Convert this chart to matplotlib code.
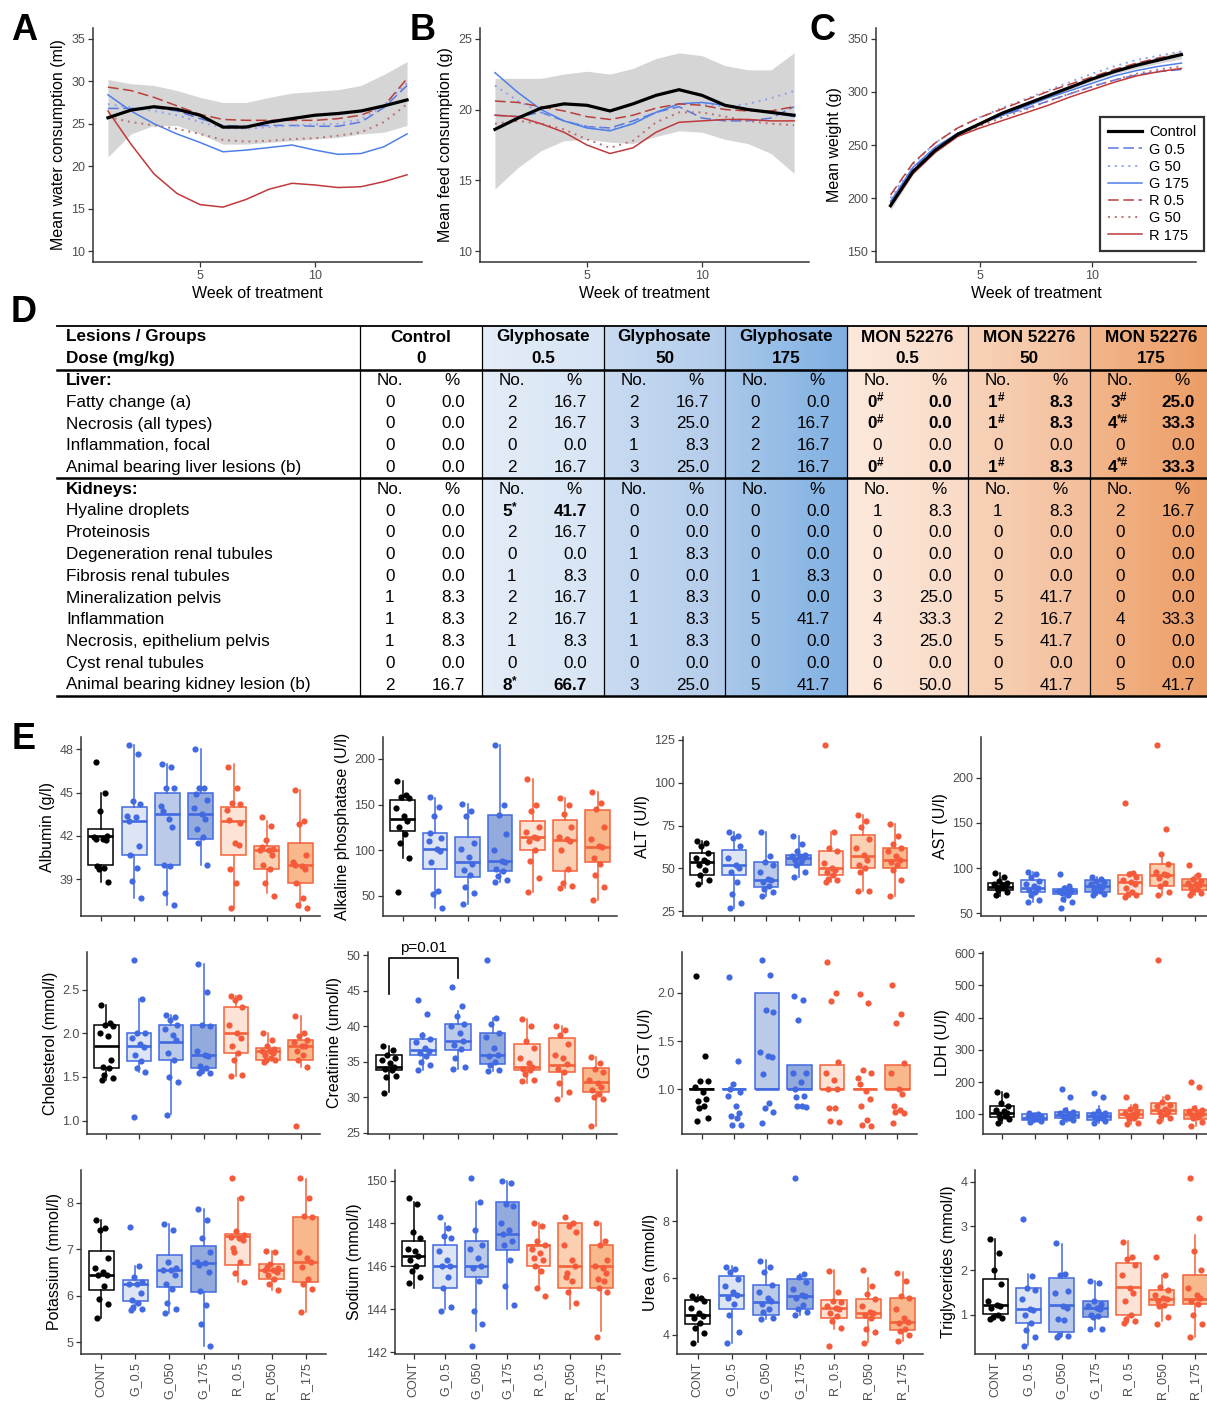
import matplotlib
matplotlib.use('Agg')
import matplotlib.pyplot as plt
import numpy as np
from matplotlib.colors import LinearSegmentedColormap

plt.rcParams['font.family'] = ['Liberation Sans', 'DejaVu Sans']

# ---------------- data: panels A-C (weekly smoothed means) ----------------
weeks = list(range(1, 15))
legend_labels = ['Control', 'G 0.5', 'G 50', 'G 175', 'R 0.5', 'G 50', 'R 175']

water_vals = [
    [25.7, 26.6, 27.0, 26.7, 26.0, 24.6, 24.6, 25.2, 25.6, 26.0, 26.2, 26.5, 27.1, 27.8],
    [26.8, 26.8, 26.9, 26.5, 25.6, 24.8, 24.7, 24.8, 24.8, 24.7, 24.7, 25.2, 26.9, 29.5],
    [27.3, 26.9, 26.5, 26.0, 25.2, 24.5, 24.4, 24.6, 24.8, 24.9, 25.0, 25.5, 27.2, 29.8],
    [28.4, 26.5, 25.0, 23.8, 22.8, 21.7, 21.9, 22.2, 22.5, 21.9, 21.4, 21.5, 22.3, 23.8],
    [29.3, 28.9, 28.1, 27.1, 26.1, 25.5, 25.4, 25.4, 25.4, 25.4, 25.6, 26.0, 27.1, 30.3],
    [25.8, 25.2, 24.8, 24.4, 23.8, 23.1, 22.9, 23.0, 23.2, 23.3, 23.6, 24.0, 25.2, 27.3],
    [26.5, 22.6, 19.1, 16.8, 15.5, 15.2, 16.1, 17.3, 18.0, 17.8, 17.5, 17.6, 18.2, 19.0]]
water_lo = [21.1, 23.8, 24.8, 24.8, 23.8, 22.6, 22.6, 22.8, 23.0, 23.2, 23.4, 23.8, 24.0, 24.8]
water_hi = [30.2, 29.7, 29.5, 28.9, 28.1, 27.5, 27.5, 28.1, 28.6, 28.8, 29.0, 29.5, 30.8, 32.3]

feed_vals = [
    [18.6, 19.4, 20.1, 20.4, 20.3, 19.9, 20.4, 21.0, 21.4, 21.0, 20.3, 20.0, 19.8, 19.6],
    [19.6, 19.5, 19.8, 19.2, 18.8, 18.7, 19.2, 19.8, 20.2, 19.4, 19.2, 19.2, 19.4, 20.2],
    [21.7, 20.6, 19.8, 19.2, 18.8, 18.6, 19.0, 19.8, 20.4, 20.4, 20.2, 20.4, 20.8, 21.3],
    [22.6, 21.2, 20.0, 19.2, 18.7, 18.5, 19.0, 19.8, 20.4, 20.5, 20.3, 20.0, 19.8, 19.5],
    [20.6, 20.5, 20.2, 19.9, 19.5, 19.3, 19.6, 20.1, 20.4, 20.3, 20.0, 19.9, 19.9, 20.2],
    [19.0, 19.2, 19.0, 18.6, 17.9, 17.3, 17.8, 19.1, 19.8, 19.8, 19.5, 19.2, 19.0, 18.9],
    [19.6, 19.5, 19.0, 18.4, 17.5, 16.9, 17.3, 18.4, 19.1, 19.2, 19.3, 19.3, 19.2, 19.2]]
feed_lo = [14.4, 15.9, 17.1, 17.8, 17.9, 17.7, 17.6, 18.1, 18.5, 18.4, 17.9, 17.6, 16.9, 15.5]
feed_hi = [22.2, 22.2, 22.2, 22.5, 22.7, 22.5, 22.9, 23.6, 24.0, 23.8, 23.1, 22.8, 22.8, 24.0]

weight_vals = [
    [193, 225, 245, 260, 270, 280, 288, 296, 304, 312, 319, 325, 330, 335],
    [196, 228, 247, 261, 270, 278, 284, 291, 298, 305, 311, 316, 319, 321],
    [200, 232, 252, 266, 276, 285, 293, 301, 309, 317, 324, 330, 334, 338],
    [197, 229, 248, 261, 270, 278, 286, 294, 301, 308, 315, 320, 324, 327],
    [203, 233, 252, 266, 276, 284, 292, 300, 307, 314, 321, 327, 332, 335],
    [195, 226, 245, 259, 268, 276, 283, 291, 298, 305, 311, 317, 321, 324],
    [192, 223, 243, 258, 266, 273, 280, 287, 295, 302, 309, 315, 319, 322]]
weight_lo = [189, 222, 243, 258, 268, 278, 286, 294, 302, 310, 317, 322, 327, 331]
weight_hi = [197, 228, 247, 262, 272, 282, 290, 298, 306, 314, 321, 328, 333, 339]

# ---------------- data: panel D (lesion table) ----------------
group_names = ['Control', 'Glyphosate', 'Glyphosate', 'Glyphosate',
               'MON 52276', 'MON 52276', 'MON 52276']
group_doses = ['0', '0.5', '50', '175', '0.5', '50', '175']
liver_rows = ['Fatty change (a)', 'Necrosis (all types)', 'Inflammation, focal',
              'Animal bearing liver lesions (b)']
kidney_rows = ['Hyaline droplets', 'Proteinosis', 'Degeneration renal tubules',
               'Fibrosis renal tubules', 'Mineralization pelvis', 'Inflammation',
               'Necrosis, epithelium pelvis', 'Cyst renal tubules',
               'Animal bearing kidney lesion (b)']
liver_no = [['0', '0', '0', '0'], ['2', '2', '0', '2'], ['2', '3', '1', '3'],
            ['0', '2', '2', '2'], ['0#', '0#', '0', '0#'], ['1#', '1#', '0', '1#'],
            ['3#', '4*#', '0', '4*#']]
liver_pct = [['0.0', '0.0', '0.0', '0.0'], ['16.7', '16.7', '0.0', '16.7'],
             ['16.7', '25.0', '8.3', '25.0'], ['0.0', '16.7', '16.7', '16.7'],
             ['0.0', '0.0', '0.0', '0.0'], ['8.3', '8.3', '0.0', '8.3'],
             ['25.0', '33.3', '0.0', '33.3']]
kidney_no = [['0', '0', '0', '0', '1', '1', '1', '0', '2'],
             ['5*', '2', '0', '1', '2', '2', '1', '0', '8*'],
             ['0', '0', '1', '0', '1', '1', '1', '0', '3'],
             ['0', '0', '0', '1', '0', '5', '0', '0', '5'],
             ['1', '0', '0', '0', '3', '4', '3', '0', '6'],
             ['1', '0', '0', '0', '5', '2', '5', '0', '5'],
             ['2', '0', '0', '0', '0', '4', '0', '0', '5']]
kidney_pct = [['0.0', '0.0', '0.0', '0.0', '8.3', '8.3', '8.3', '0.0', '16.7'],
              ['41.7', '16.7', '0.0', '8.3', '16.7', '16.7', '8.3', '0.0', '66.7'],
              ['0.0', '0.0', '8.3', '0.0', '8.3', '8.3', '8.3', '0.0', '25.0'],
              ['0.0', '0.0', '0.0', '8.3', '0.0', '41.7', '0.0', '0.0', '41.7'],
              ['8.3', '0.0', '0.0', '0.0', '25.0', '33.3', '25.0', '0.0', '50.0'],
              ['8.3', '0.0', '0.0', '0.0', '41.7', '16.7', '41.7', '0.0', '41.7'],
              ['16.7', '0.0', '0.0', '0.0', '0.0', '33.3', '0.0', '0.0', '41.7']]

# ---------------- data: panel E (box stats: lo, q1, median, q3, hi) ----------------
box_groups = ['CONT', 'G_0.5', 'G_050', 'G_175', 'R_0.5', 'R_050', 'R_175']

alb_stats = [(38.8, 40.0, 42.0, 42.5, 45.0), (37.7, 40.7, 43.0, 44.0, 48.3), (37.2, 40.0, 43.5, 45.0, 47.0),
             (40.0, 41.8, 43.5, 45.0, 48.0), (37.0, 40.7, 43.0, 44.0, 47.0), (38.0, 39.7, 41.0, 41.3, 43.0),
             (37.0, 38.7, 40.0, 41.5, 45.2)]
alb_pts = [[47.1, 45.0, 43.7, 42.0, 41.9, 41.8, 41.7, 39.9, 39.8, 39.7, 38.8, 41.8],
           [48.3, 47.7, 44.4, 44.2, 43.4, 43.3, 41.3, 40.7, 39.8, 38.9, 37.7, 43.0],
           [47.0, 46.8, 45.3, 45.3, 44.1, 43.2, 42.6, 40.0, 39.9, 38.0, 37.2, 43.7],
           [48.0, 45.3, 45.3, 44.5, 43.9, 43.5, 43.2, 42.5, 41.9, 41.5, 40.0, 44.9],
           [46.8, 45.3, 44.3, 44.2, 43.8, 41.5, 41.4, 39.7, 38.7, 37.0, 42.9, 43.1],
           [43.3, 42.7, 41.7, 41.1, 41.0, 41.0, 40.7, 40.0, 39.7, 38.7, 37.8, 41.2],
           [45.2, 43.0, 42.8, 40.7, 40.2, 39.9, 39.7, 38.7, 37.7, 37.2, 37.0, 40.0]]

alp_stats = [(91, 121, 134, 155, 176), (37, 79, 101, 119, 157), (41, 71, 87, 115, 151),
             (65, 77, 88, 139, 215), (54, 100, 114, 132, 178), (59, 77, 111, 133, 157),
             (46, 87, 104, 144, 164)]
alp_pts = [[176, 160, 158, 157, 146, 138, 132, 125, 118, 108, 91, 54],
           [158, 147, 137, 113, 110, 101, 99, 87, 55, 52, 37, 119],
           [151, 143, 137, 108, 101, 93, 85, 78, 73, 60, 53, 41],
           [215, 150, 139, 118, 100, 88, 87, 80, 77, 72, 68, 65],
           [178, 149, 143, 125, 120, 115, 113, 110, 100, 88, 70, 54],
           [157, 150, 140, 125, 115, 112, 110, 100, 80, 64, 61, 59],
           [164, 152, 145, 125, 112, 105, 104, 92, 85, 73, 60, 46]]

alt_stats = [(41, 46, 54, 59, 66), (27, 46, 52, 60.5, 71), (34, 39, 43, 53.5, 71),
             (45, 52, 56, 58, 69), (42, 46, 50, 60, 71), (37, 50, 57, 69.5, 81), (34, 50, 55, 62, 76)]
alt_pts = [[66, 65, 63, 59, 56, 55, 54, 52, 49, 46, 43, 41],
           [71, 69, 68, 63, 56, 52, 50, 48, 42, 35, 30, 27],
           [71, 57, 54, 52, 48, 44, 43, 42, 40, 38, 36, 34],
           [69, 64, 60, 58, 57, 57, 56, 55, 54, 52, 48, 45],
           [122, 71, 62, 60, 53, 50, 49, 48, 46, 44, 43, 42],
           [81, 78, 74, 67, 62, 58, 55, 52, 50, 48, 37, 37],
           [76, 69, 64, 62, 60, 57, 55, 54, 52, 49, 43, 34]]

ast_stats = [(69, 76, 79, 83, 95), (63, 74, 78, 87, 96), (62, 71, 75, 77, 80),
             (70, 74, 80, 87, 90), (68, 71, 85, 92, 96), (70, 80, 92, 104, 117), (70, 76, 81, 88, 92)]
ast_pts = [[95, 90, 86, 84, 82, 81, 80, 79, 78, 76, 73, 70],
           [96, 93, 90, 86, 82, 80, 78, 76, 73, 70, 65, 63],
           [93, 80, 78, 76, 75, 75, 74, 72, 70, 66, 62, 56],
           [90, 88, 86, 85, 82, 80, 79, 77, 75, 73, 71, 70],
           [172, 95, 93, 90, 87, 85, 82, 78, 73, 71, 70, 68],
           [236, 143, 116, 104, 96, 93, 92, 89, 84, 80, 74, 70],
           [103, 92, 88, 86, 84, 82, 81, 79, 77, 74, 72, 70]]

chol_stats = [(1.47, 1.6, 1.85, 2.1, 2.33), (1.56, 1.68, 1.85, 2.0, 2.4), (1.07, 1.7, 1.9, 2.1, 2.21),
              (1.54, 1.6, 1.75, 2.1, 2.8), (1.51, 1.77, 2.0, 2.3, 2.43), (1.67, 1.7, 1.8, 1.83, 2.0),
              (1.62, 1.7, 1.85, 1.93, 2.2)]
chol_pts = [[2.33, 2.12, 2.1, 2.08, 2.0, 1.97, 1.69, 1.62, 1.6, 1.52, 1.49, 1.47],
            [2.84, 2.4, 2.0, 2.0, 1.95, 1.88, 1.84, 1.75, 1.68, 1.6, 1.56, 1.04],
            [2.21, 2.19, 2.15, 2.1, 2.05, 1.98, 1.92, 1.77, 1.7, 1.5, 1.44, 1.06],
            [2.8, 2.47, 2.1, 2.09, 1.8, 1.75, 1.74, 1.63, 1.6, 1.57, 1.55, 1.54],
            [2.43, 2.42, 2.38, 2.3, 2.1, 2.0, 1.95, 1.85, 1.78, 1.7, 1.52, 1.51],
            [2.0, 1.93, 1.86, 1.82, 1.8, 1.8, 1.78, 1.75, 1.72, 1.7, 1.69, 1.67],
            [2.2, 2.0, 1.97, 1.93, 1.9, 1.86, 1.85, 1.8, 1.75, 1.7, 1.62, 0.94]]

creat_stats = [(30.7, 33.8, 34.2, 36.0, 37.2), (33.9, 35.9, 36.6, 38.2, 39.0), (34.0, 36.7, 38.0, 40.3, 42.2),
               (33.7, 34.7, 36.0, 39.0, 41.2), (32.0, 33.8, 34.3, 37.5, 41.0), (30.0, 33.5, 34.5, 38.3, 40.0),
               (26.0, 30.8, 32.1, 34.1, 35.7)]
creat_pts = [[37.2, 36.6, 36.0, 35.6, 35.2, 34.8, 34.2, 34.0, 33.8, 32.8, 33.0, 30.6],
             [43.7, 41.7, 38.8, 38.2, 37.8, 37.0, 36.5, 36.3, 35.8, 35.0, 34.5, 33.9],
             [45.6, 42.8, 41.5, 40.3, 40.0, 39.0, 38.0, 37.4, 36.8, 35.5, 34.2, 34.0],
             [49.3, 41.2, 40.3, 39.0, 38.5, 37.0, 36.0, 35.8, 35.0, 34.5, 33.8, 33.7],
             [41.0, 40.0, 38.0, 37.0, 35.5, 34.8, 34.3, 34.0, 33.9, 33.3, 32.5, 32.3],
             [40.0, 39.5, 38.8, 37.5, 36.0, 35.5, 34.7, 34.0, 33.5, 32.0, 30.7, 29.8],
             [35.7, 34.8, 34.0, 33.5, 32.5, 32.0, 31.5, 31.0, 30.5, 30.0, 29.8, 26.0]]
creat_sig_groups = (0, 2)
creat_sig_y = 49.6
creat_sig_legs = (44.5, 46.8)
creat_sig_text = 'p=0.01'

ggt_stats = [(1, 1, 1, 1, 1), (1, 1, 1, 1, 1), (1, 1, 1, 2, 2), (1, 1, 1, 1.25, 1.25),
             (1, 1, 1, 1.25, 1.25), (1, 1, 1, 1, 1), (1, 1, 1, 1.25, 1.25)]
ggt_pts = [[2.18, 1.35, 1.09, 1.08, 1.02, 0.97, 0.9, 0.88, 0.83, 0.8, 0.7, 0.67],
           [2.17, 1.29, 1.05, 0.97, 0.93, 0.83, 0.75, 0.72, 0.7, 0.63, 0.63, 1.0],
           [2.34, 2.19, 1.82, 1.8, 1.39, 1.35, 1.33, 1.16, 0.86, 0.8, 0.76, 0.65],
           [1.97, 1.93, 1.72, 1.17, 1.17, 1.07, 0.93, 0.92, 0.83, 0.82, 0.81, 1.0],
           [2.32, 2.0, 1.92, 1.28, 1.17, 1.1, 1.0, 0.8, 0.8, 0.67, 0.66, 1.0],
           [1.99, 1.9, 1.2, 1.17, 1.12, 0.98, 0.9, 0.83, 0.68, 0.63, 0.62, 1.05],
           [2.08, 1.78, 1.69, 1.27, 1.17, 1.0, 0.95, 0.83, 0.78, 0.76, 0.75, 0.65]]

ldh_stats = [(75, 93, 105, 126, 170), (78, 82, 90, 100, 105), (78, 88, 98, 107, 120),
             (72, 83, 95, 105, 125), (70, 88, 100, 114, 130), (80, 100, 115, 134, 155), (65, 85, 100, 115, 125)]
ldh_pts = [[170, 160, 135, 125, 115, 110, 105, 100, 95, 90, 85, 75],
           [105, 100, 97, 95, 92, 90, 89, 87, 85, 82, 80, 78],
           [178, 155, 115, 108, 103, 100, 97, 95, 90, 88, 82, 78],
           [168, 155, 110, 105, 100, 97, 95, 92, 88, 85, 80, 72],
           [155, 125, 118, 112, 105, 100, 98, 95, 90, 85, 75, 70],
           [578, 155, 140, 130, 125, 118, 112, 108, 100, 95, 88, 80],
           [202, 185, 120, 115, 110, 103, 100, 98, 92, 88, 78, 65]]

k_stats = [(5.52, 6.13, 6.45, 6.96, 7.62), (5.7, 5.88, 6.25, 6.33, 6.63), (5.62, 6.18, 6.56, 6.87, 7.55),
           (4.93, 6.09, 6.7, 7.07, 7.87), (6.3, 6.67, 7.28, 7.33, 8.1), (6.12, 6.36, 6.56, 6.68, 6.97),
           (5.66, 6.3, 6.72, 7.69, 8.5)]
k_pts = [[7.62, 7.45, 7.42, 6.82, 6.6, 6.5, 6.45, 6.45, 6.2, 5.93, 5.82, 5.52],
         [7.47, 6.63, 6.4, 6.3, 6.25, 6.25, 6.07, 5.9, 5.85, 5.75, 5.72, 5.7],
         [7.55, 7.42, 6.72, 6.6, 6.55, 6.55, 6.45, 6.25, 6.15, 5.85, 5.72, 5.62],
         [7.87, 7.62, 7.25, 6.95, 6.72, 6.7, 6.5, 6.1, 5.8, 5.4, 4.93, 6.65],
         [8.52, 8.1, 7.38, 7.3, 7.27, 7.25, 7.2, 6.95, 6.72, 6.48, 6.3, 7.02],
         [6.97, 6.95, 6.68, 6.6, 6.55, 6.55, 6.5, 6.45, 6.35, 6.25, 6.12, 6.62],
         [8.52, 8.1, 7.72, 7.7, 6.95, 6.82, 6.72, 6.62, 6.35, 6.25, 6.15, 5.65]]

na_stats = [(145.0, 146.0, 146.5, 147.2, 149.0), (144.0, 145.0, 146.0, 147.0, 148.0),
            (143.0, 145.5, 146.0, 147.2, 149.0), (144.0, 146.75, 147.5, 149.0, 150.0),
            (145.0, 146.0, 147.0, 147.0, 148.0), (144.0, 145.0, 146.0, 148.0, 148.0),
            (143.0, 145.0, 146.0, 147.0, 148.0)]
na_pts = [[149.2, 148.9, 147.6, 147.3, 146.8, 146.7, 146.5, 146.3, 146.0, 145.8, 145.5, 145.2],
          [148.3, 147.8, 147.4, 147.3, 146.7, 146.3, 146.0, 146.0, 145.5, 145.0, 144.1, 143.9],
          [150.1, 149.0, 147.7, 147.0, 146.8, 146.4, 146.0, 145.9, 145.3, 143.9, 143.3, 142.3],
          [150.0, 149.9, 148.9, 148.8, 148.0, 147.7, 147.2, 147.0, 146.3, 145.1, 144.2, 147.5],
          [148.0, 147.9, 147.2, 147.0, 146.8, 146.6, 146.3, 146.0, 145.8, 145.0, 144.6, 146.4],
          [148.3, 148.0, 147.9, 147.6, 147.0, 146.3, 146.0, 145.7, 145.3, 144.8, 144.3, 145.5],
          [148.0, 147.2, 147.0, 146.3, 146.0, 145.9, 145.7, 145.4, 145.3, 145.0, 144.8, 142.7]]

urea_stats = [(3.74, 4.39, 4.68, 5.24, 5.39), (3.72, 4.92, 5.41, 6.06, 6.41), (4.56, 4.71, 5.15, 5.76, 6.62),
              (4.68, 4.92, 5.36, 5.96, 6.15), (4.2, 4.6, 4.94, 5.21, 6.29), (3.74, 4.59, 4.76, 5.27, 5.98),
              (3.8, 4.18, 4.45, 5.3, 6.21)]
urea_pts = [[5.38, 5.3, 5.25, 5.2, 4.95, 4.75, 4.65, 4.6, 4.4, 4.25, 4.05, 3.73],
            [6.4, 6.33, 6.2, 5.95, 5.7, 5.5, 5.4, 5.3, 5.1, 4.7, 4.1, 3.7],
            [6.6, 6.4, 6.2, 5.75, 5.5, 5.3, 5.2, 5.1, 4.9, 4.8, 4.6, 4.55],
            [9.5, 6.15, 6.05, 5.85, 5.6, 5.4, 5.35, 5.3, 5.05, 4.9, 4.8, 4.7],
            [6.25, 5.5, 5.2, 5.15, 5.0, 4.95, 4.9, 4.75, 4.65, 4.5, 4.25, 3.62],
            [6.28, 5.7, 5.45, 5.25, 5.0, 4.8, 4.75, 4.7, 4.6, 4.2, 4.1, 3.7],
            [6.18, 5.9, 5.35, 5.3, 4.9, 4.6, 4.45, 4.4, 4.2, 4.15, 4.0, 3.8]]

tg_stats = [(0.92, 1.02, 1.22, 1.8, 2.7), (0.32, 0.82, 1.12, 1.61, 1.91), (0.52, 0.61, 1.22, 1.83, 2.6),
            (0.68, 0.95, 1.14, 1.31, 1.76), (0.82, 1.0, 1.62, 2.16, 2.66), (0.86, 1.22, 1.36, 1.55, 1.89),
            (0.5, 1.25, 1.35, 1.89, 2.8)]
tg_pts = [[2.7, 2.4, 2.0, 1.7, 1.3, 1.22, 1.2, 1.15, 1.0, 0.95, 0.92, 0.9],
          [3.17, 1.88, 1.6, 1.55, 1.35, 1.12, 1.1, 1.0, 0.82, 0.65, 0.5, 0.3],
          [2.63, 1.93, 1.9, 1.53, 1.5, 1.2, 1.15, 0.9, 0.88, 0.55, 0.52, 0.5],
          [1.77, 1.72, 1.3, 1.25, 1.2, 1.15, 1.12, 1.0, 0.98, 0.95, 0.68, 0.67],
          [2.65, 2.3, 2.25, 2.12, 1.9, 1.6, 1.5, 1.3, 1.0, 0.9, 0.85, 0.82],
          [2.3, 1.9, 1.62, 1.55, 1.45, 1.38, 1.35, 1.3, 1.22, 1.2, 0.95, 0.78],
          [4.08, 3.18, 2.43, 2.0, 1.6, 1.45, 1.38, 1.3, 1.25, 1.0, 0.8, 0.5]]

# ---------------- figure ----------------
W, H = 1207, 1402
fig = plt.figure(figsize=(W / 100, H / 100), dpi=100)
TICKC = '#4d4d4d'
AXC = '#333333'


def px_axes(l, t, r, b):
    ax = fig.add_axes([l / W, 1 - b / H, (r - l) / W, (b - t) / H])
    ax.patch.set_visible(False)
    return ax


def classic(ax):
    for s in ['top', 'right']:
        ax.spines[s].set_visible(False)
    for s in ['left', 'bottom']:
        ax.spines[s].set_color(AXC)
        ax.spines[s].set_linewidth(1.1)
    ax.tick_params(colors=AXC, labelcolor=TICKC, labelsize=9, length=3.5, width=0.9, pad=2)


# overlay axes in pixel units for the table
ov = fig.add_axes([0, 0, 1, 1])
ov.axis('off')

# panel letters on top of everything
for letter, (lx, ly) in zip('ABCDE', [(24, 31), (423, 31), (822, 31), (24, 312), (24, 740)]):
    fig.text(lx / W, 1 - ly / H, letter, fontsize=26, fontweight='bold', ha='center', va='center',
             zorder=10)

# ---------------- panels A-C ----------------
line_styles = [dict(color='black', lw=2.3, ls='-', zorder=5),
               dict(color='#5a78e0', lw=1.1, dashes=(7, 3), zorder=4),
               dict(color='#8fa0f0', lw=1.4, dashes=(1, 2.5), zorder=4),
               dict(color='#4f7fe8', lw=1.1, ls='-', zorder=4),
               dict(color='#b9403a', lw=1.1, dashes=(7, 3), zorder=4),
               dict(color='#b97070', lw=1.4, dashes=(1, 2.5), zorder=4),
               dict(color='#c0393b', lw=1.1, ls='-', zorder=4)]


def line_panel(l, r, vals, lo, hi, ylim, yticks, ylabel):
    ax = px_axes(l, 28, r, 262)
    ax.fill_between(weeks, lo, hi, color='#d5d5d5', lw=0, zorder=1)
    handles = []
    for v, st, lab in zip(vals, line_styles, legend_labels):
        h, = ax.plot(weeks, v, label=lab, **st)
        handles.append(h)
    ax.set_xlim(0.35, 14.65)
    ax.set_ylim(*ylim)
    ax.set_xticks([5, 10])
    ax.set_yticks(yticks)
    classic(ax)
    ax.set_xlabel('Week of treatment', fontsize=11.5, labelpad=3)
    ax.set_ylabel(ylabel, fontsize=11.5, labelpad=4)
    return ax, handles


line_panel(93, 422, water_vals, water_lo, water_hi, (8.75, 36.25), [10, 15, 20, 25, 30, 35],
           'Mean water consumption (ml)')
line_panel(480, 809, feed_vals, feed_lo, feed_hi, (9.25, 25.75), [10, 15, 20, 25],
           'Mean feed consumption (g)')
axc, hs = line_panel(876, 1196, weight_vals, weight_lo, weight_hi, (140, 360), [150, 200, 250, 300, 350],
                     'Mean weight (g)')
leg = axc.legend(handles=hs, loc='upper left', bbox_to_anchor=(1093 / W, 1 - 110 / H),
                 bbox_transform=fig.transFigure, fontsize=10.5, frameon=True, fancybox=False,
                 handlelength=2.3, labelspacing=0.22, borderpad=0.55, handletextpad=0.5)
leg.get_frame().set_edgecolor('black')
leg.get_frame().set_linewidth(1.6)

# ---------------- panel D: table ----------------
col_edges = [360, 482, 604, 725, 847, 968, 1090, 1212]
shade = [None, ('#e4edf8', '#d6e4f4'), ('#c9dbf1', '#b2cceb'), ('#a9c8ea', '#7fb0e2'),
         ('#fde9dc', '#f9dac6'), ('#f8d3b9', '#f3be9a'), ('#f2b68b', '#ec9c64')]
row_y0, row_dy = 337, 21.75
t_top, t_bot = row_y0 - 0.5 * row_dy, row_y0 + 16.5 * row_dy

for gi in range(7):
    if shade[gi] is None:
        continue
    cmap = LinearSegmentedColormap.from_list('g%d' % gi, list(shade[gi]))
    ov.imshow(np.linspace(0, 1, 64)[None, :], cmap=cmap, aspect='auto',
              extent=[col_edges[gi], col_edges[gi + 1], t_bot, t_top], zorder=0)

TFS = 12.3


def ry(i):
    return row_y0 + i * row_dy


ov.text(66, ry(0), 'Lesions / Groups', fontsize=TFS, fontweight='bold', va='center')
ov.text(66, ry(1), 'Dose (mg/kg)', fontsize=TFS, fontweight='bold', va='center')
ov.text(66, ry(2), 'Liver:', fontsize=TFS, fontweight='bold', va='center')
ov.text(66, ry(7), 'Kidneys:', fontsize=TFS, fontweight='bold', va='center')
for i, lab in enumerate(liver_rows):
    ov.text(66, ry(3 + i), lab, fontsize=TFS, va='center')
for i, lab in enumerate(kidney_rows):
    ov.text(66, ry(8 + i), lab, fontsize=TFS, va='center')


def cell_no(x, y, s):
    base = s.rstrip('*#')
    suf = s[len(base):]
    if not suf:
        ov.text(x, y, base, fontsize=TFS, ha='center', va='center')
        return
    off = 2 + 3 * len(suf)
    ov.text(x - off, y, base, fontsize=TFS, ha='center', va='center', fontweight='bold')
    ov.text(x - off + 4.5, y - 4, suf, fontsize=8.5, ha='left', va='center', fontweight='bold')


for gi in range(7):
    x0 = col_edges[gi]
    cx = (col_edges[gi] + col_edges[gi + 1]) / 2
    ov.text(cx, ry(0), group_names[gi], fontsize=TFS, fontweight='bold', ha='center', va='center')
    ov.text(cx, ry(1), group_doses[gi], fontsize=TFS, fontweight='bold', ha='center', va='center')
    for hr in (2, 7):
        ov.text(x0 + 30, ry(hr), 'No.', fontsize=TFS, ha='center', va='center')
        ov.text(x0 + 92, ry(hr), '%', fontsize=TFS, ha='center', va='center')
    for i in range(4):
        s = liver_no[gi][i]
        cell_no(x0 + 30, ry(3 + i), s)
        ov.text(x0 + 105, ry(3 + i), liver_pct[gi][i], fontsize=TFS, ha='right', va='center',
                fontweight='bold' if s != s.rstrip('*#') else 'normal')
    for i in range(9):
        s = kidney_no[gi][i]
        cell_no(x0 + 30, ry(8 + i), s)
        ov.text(x0 + 105, ry(8 + i), kidney_pct[gi][i], fontsize=TFS, ha='right', va='center',
                fontweight='bold' if s != s.rstrip('*#') else 'normal')

ov.plot([57, W], [t_top, t_top], color='black', lw=1.3)
for yy in (ry(1.5), ry(6.5), t_bot):
    ov.plot([57, W], [yy, yy], color='black', lw=1.8)
for xx in col_edges[:-1]:
    ov.plot([xx, xx], [t_top, t_bot], color='black', lw=0.9)

ov.set_xlim(0, W)
ov.set_ylim(H, 0)

# ---------------- panel E ----------------
edge_cols = ['black', '#4169e1', '#4169e1', '#4169e1', '#f4623a', '#f4623a', '#f4623a']
fill_cols = ['white', '#dde5f4', '#bccaea', '#93aadd', '#fde3d5', '#fbcfb1', '#f8b88b']
dot_cols = ['black', '#4169e1', '#4169e1', '#4169e1', '#f55a3a', '#f55a3a', '#f55a3a']
jit = np.array([-0.16, 0.11, -0.04, 0.19, -0.2, 0.05, 0.15, -0.11, 0.08, -0.07, 0.2, -0.14])


def box_panel(box, pts, stats, yticks, fmt, ylabel, show_x):
    l, t, r, b = box
    ax = px_axes(l, t, r, b)
    for i in range(7):
        lo, q1, med, q3, hi = stats[i]
        st = dict(whislo=lo, q1=q1, med=med, q3=q3, whishi=hi, fliers=[])
        ax.bxp([st], positions=[i + 1], widths=0.75, patch_artist=True, showcaps=False,
               showfliers=False, manage_ticks=False,
               boxprops=dict(facecolor=fill_cols[i], edgecolor=edge_cols[i], lw=1.1),
               medianprops=dict(color=edge_cols[i], lw=1.9),
               whiskerprops=dict(color=edge_cols[i], lw=1.1))
        ax.scatter(i + 1 + jit[:len(pts[i])], pts[i], s=20, color=dot_cols[i], lw=0, zorder=4)
    allv = [v for g in pts for v in g] + [v for s in stats for v in s]
    lo, hi = min(allv), max(allv)
    pad = 0.05 * (hi - lo)
    ax.set_ylim(lo - pad, hi + pad)
    ax.set_xlim(0.4, 7.6)
    ax.set_yticks(yticks)
    ax.set_yticklabels([fmt % v for v in yticks])
    ax.set_xticks(range(1, 8))
    classic(ax)
    if show_x:
        ax.set_xticklabels(box_groups, rotation=90, va='top', ha='center')
    else:
        ax.set_xticklabels([])
    ax.set_ylabel(ylabel, fontsize=11.5, labelpad=3)
    return ax


box_panel((81, 737, 320, 916), alb_pts, alb_stats, [39, 42, 45, 48], '%d', 'Albumin (g/l)', False)
box_panel((383, 737, 617, 916), alp_pts, alp_stats, [50, 100, 150, 200], '%d', 'Alkaline phosphatase (U/l)', False)
box_panel((683, 737, 914, 916), alt_pts, alt_stats, [25, 50, 75, 100, 125], '%d', 'ALT (U/l)', False)
box_panel((981, 737, 1214, 916), ast_pts, ast_stats, [50, 100, 150, 200], '%d', 'AST (U/l)', False)

box_panel((87, 952, 320, 1134), chol_pts, chol_stats, [1.0, 1.5, 2.0, 2.5], '%.1f', 'Cholesterol (mmol/l)', False)
axcr = box_panel((368, 952, 617, 1134), creat_pts, creat_stats, [25, 30, 35, 40, 45, 50], '%d',
                 'Creatinine (umol/l)', False)
g1, g2 = creat_sig_groups[0] + 1, creat_sig_groups[1] + 1
axcr.plot([g1, g1, g2, g2], [creat_sig_legs[0], creat_sig_y, creat_sig_y, creat_sig_legs[1]],
          color='black', lw=1.2, clip_on=False, zorder=5)
axcr.text((g1 + g2) / 2, creat_sig_y + 0.4, creat_sig_text, ha='center', va='bottom', fontsize=11)
box_panel((682, 952, 917, 1134), ggt_pts, ggt_stats, [1.0, 1.5, 2.0], '%.1f', 'GGT (U/l)', False)
box_panel((983, 952, 1215, 1134), ldh_pts, ldh_stats, [100, 200, 300, 400, 500, 600], '%d', 'LDH (U/l)', False)

box_panel((81, 1170, 326, 1354), k_pts, k_stats, [5, 6, 7, 8], '%d', 'Potassium (mmol/l)', True)
box_panel((395, 1170, 620, 1354), na_pts, na_stats, [142, 144, 146, 148, 150], '%d', 'Sodium (mmol/l)', True)
box_panel((677, 1170, 923, 1354), urea_pts, urea_stats, [4, 6, 8], '%d', 'Urea (mmol/l)', True)
box_panel((975, 1170, 1215, 1354), tg_pts, tg_stats, [1, 2, 3, 4], '%d', 'Triglycerides (mmol/l)', True)

fig.savefig('out.png', dpi=100, facecolor='white')
